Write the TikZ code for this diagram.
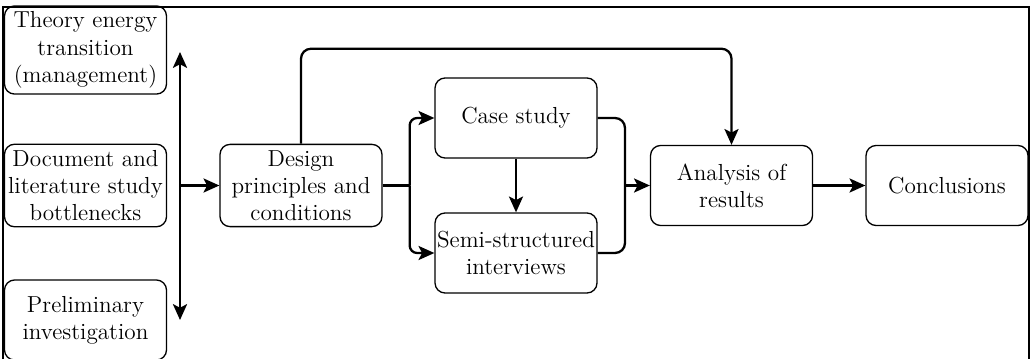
\documentclass[tikz,border=0pt]{standalone}
\usetikzlibrary{arrows.meta}
\begin{document}
\begin{tikzpicture}[
  x = 0.02cm, y = -0.02cm,
  block/.style={draw, rounded corners=0.2cm, line width=0.75pt, minimum width=3.24cm,
    minimum height=1.6cm, inner xsep=1pt, font=\rmfamily\fontsize{13.2}{15.5}\selectfont},
  link/.style={line width=1.3pt, -{Stealth[length=9pt,width=8pt,inset=2pt]}},
  plain/.style={line width=1.3pt},
  every text node part/.style={align=center}
]
%bounding box
\useasboundingbox (0,0) rectangle (1030,358);

%frame
\draw[line width=1pt] (3,360) -- (3,7) -- (1029,7) -- (1029,360);

%inputs
\node[block] (theory) at (85.5,50) {Theory energy\\transition\\(management)};
\node[block] (docstudy) at (85.5,185.5) {Document and\\literature study\\bottlenecks};
\node[block] (prelim) at (85.5,320) {Preliminary\\investigation};

%main chain
\node[block] (design) at (301,185.5) {Design\\principles and\\conditions};
\node[block] (case) at (516,118) {Case study};
\node[block] (semi) at (516,253) {Semi-structured\\interviews};
\node[block] (analysis) at (731.5,185.5) {Analysis of\\results};
\node[block] (concl) at (947,185.5) {Conclusions};

%connectors
\coordinate (uptip) at (180,52);
\coordinate (downtip) at (180,320);
\coordinate (mid) at (180,185.5);
\draw[plain, {Stealth[length=9pt,width=8pt,inset=2pt]}-{Stealth[length=9pt,width=8pt,inset=2pt]}] (uptip) -- (downtip);
\draw[link] (mid) -- (design.west);

\draw[plain] (design.east) -- ++(27,0) coordinate (split);
\draw[link, rounded corners=0.15cm] (split) |- (case.west);
\draw[link, rounded corners=0.15cm] (split) |- (semi.west);
\draw[link] (case) -- (semi);

\coordinate (join) at (625,185.5);
\draw[plain, rounded corners=0.2cm] (case.east) -| (join) |- (semi.east);
\draw[link] (join) -- (analysis.west);
\draw[link] (analysis) -- (concl);

\draw[link, rounded corners=0.2cm] (design.north) -- ++(0,-95) -| (analysis.north);

\end{tikzpicture}
\end{document}
